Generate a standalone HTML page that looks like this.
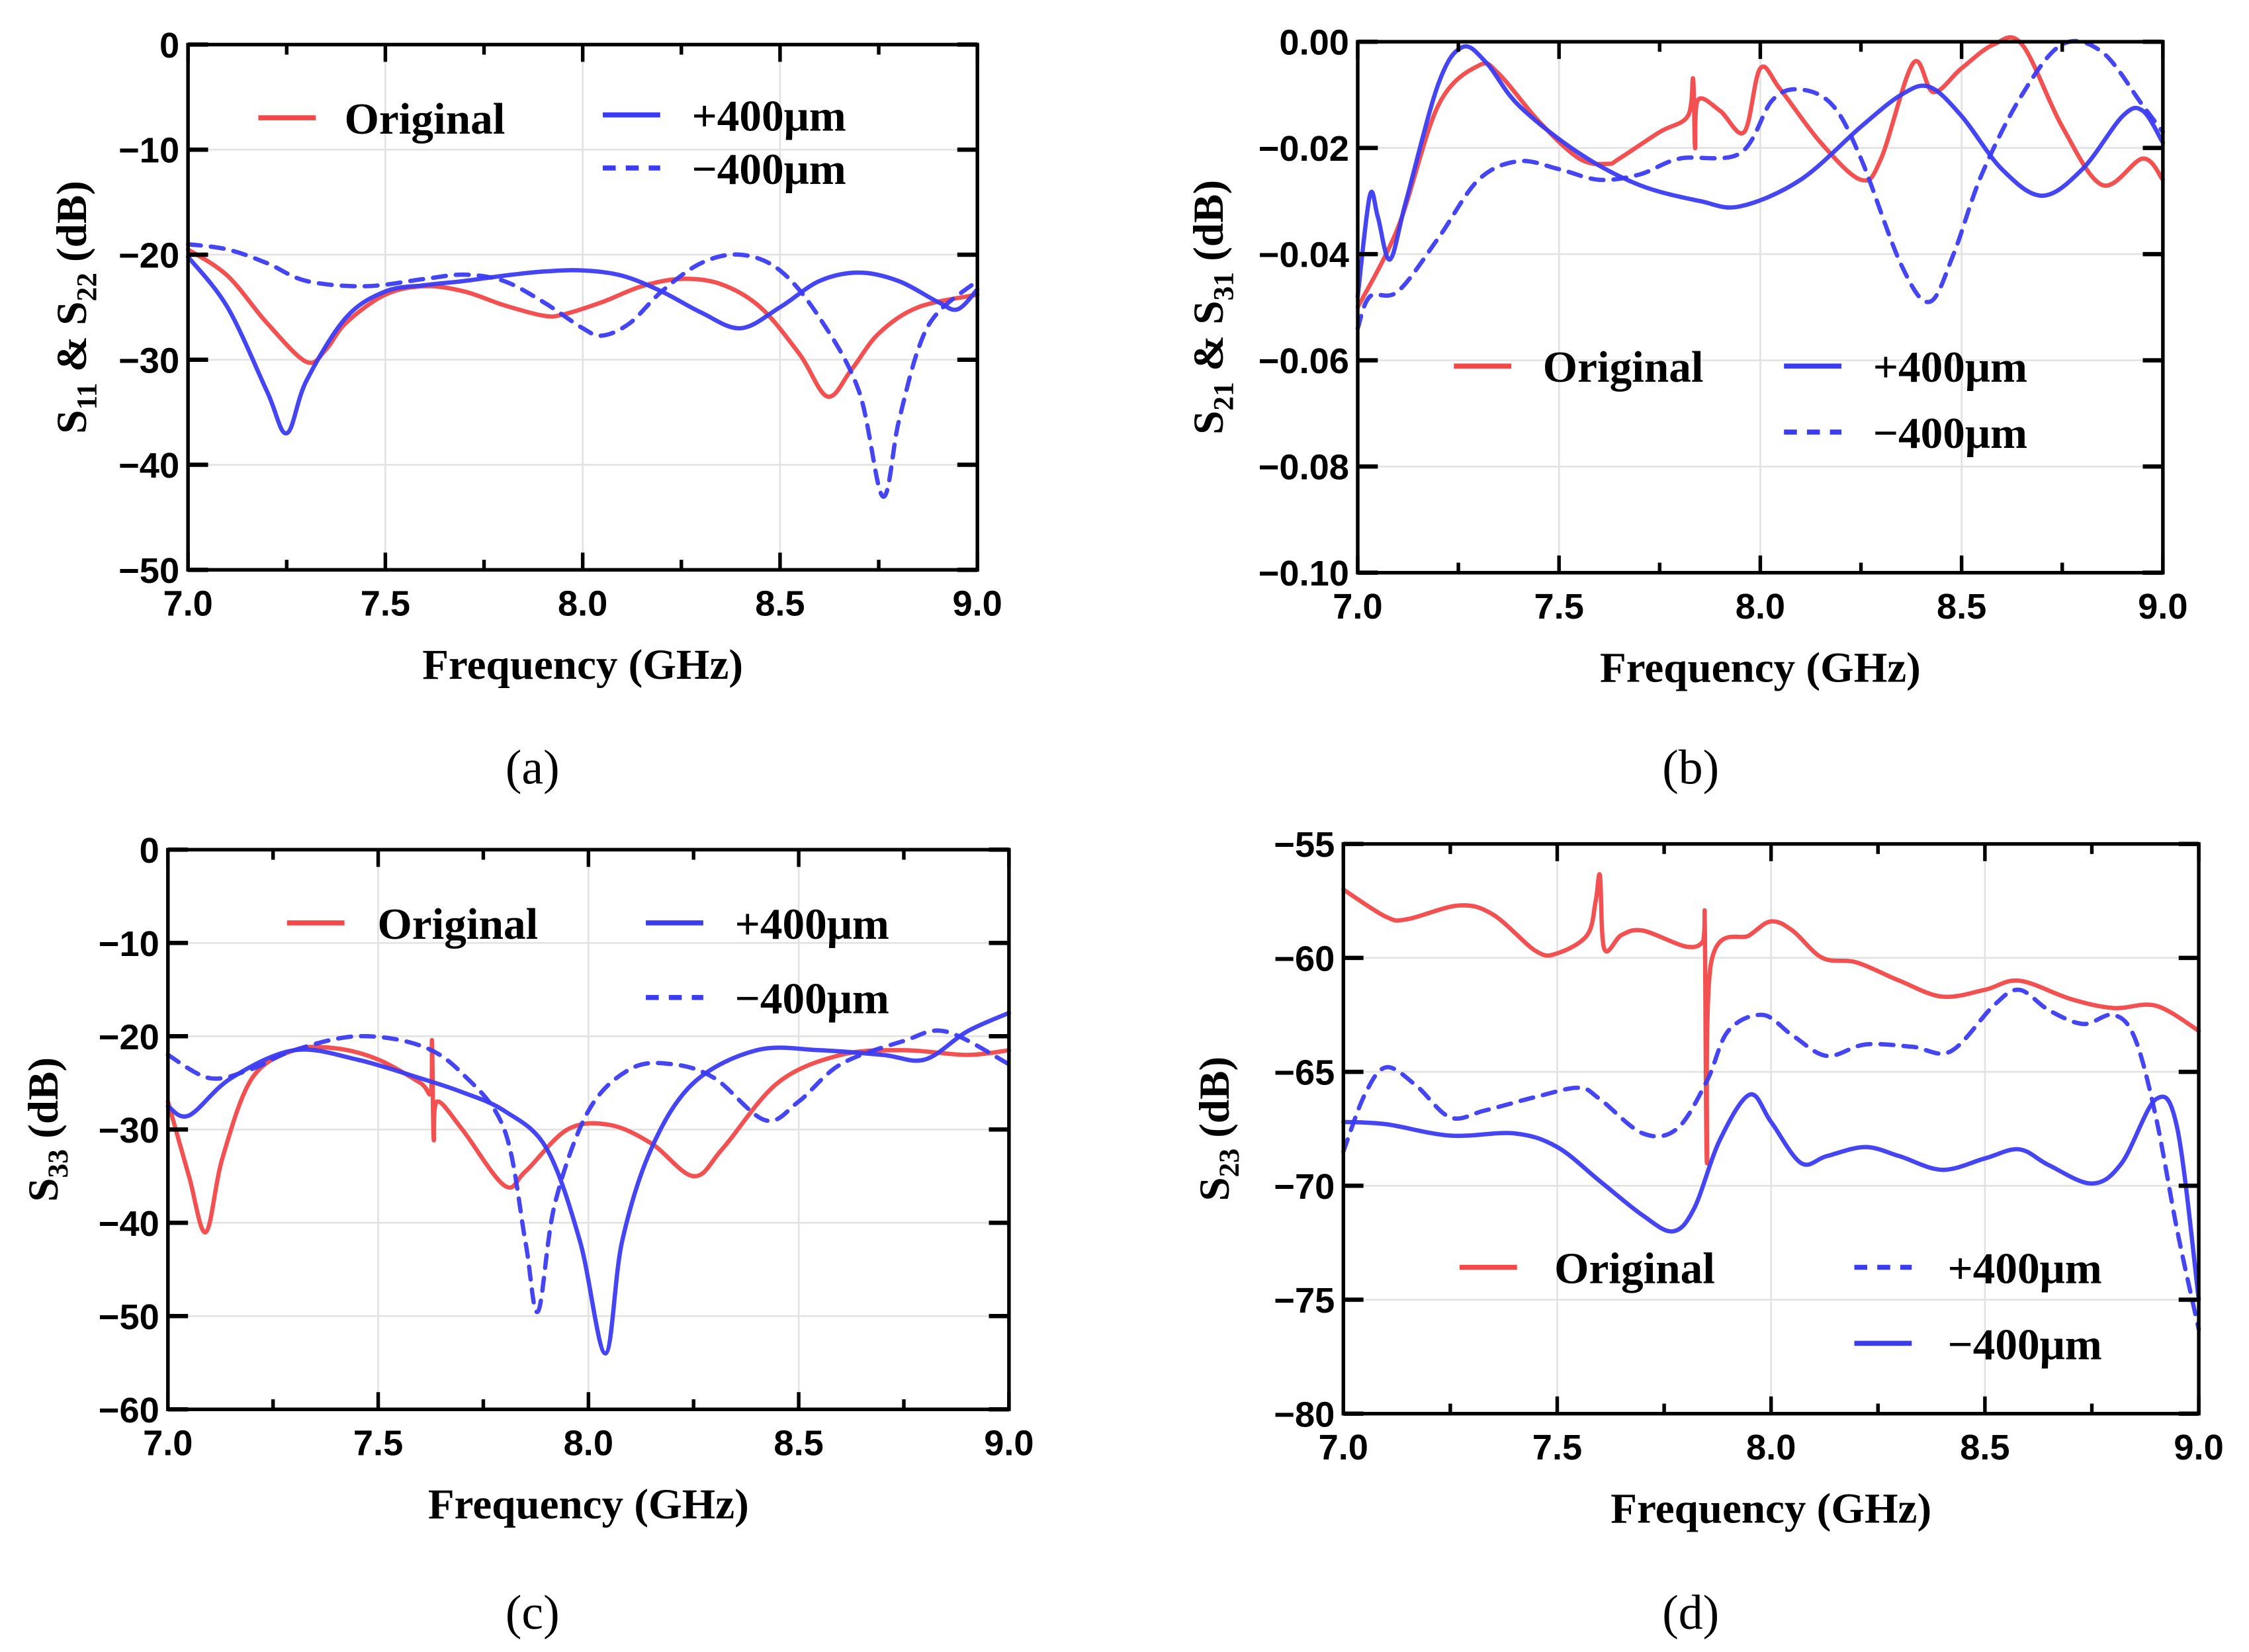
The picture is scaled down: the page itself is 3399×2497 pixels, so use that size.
<!DOCTYPE html>
<html><head><meta charset="utf-8"><style>
html,body{margin:0;padding:0;background:#fff}
svg{display:block}
.tk{font-family:"Liberation Sans",sans-serif;font-weight:bold;font-size:25px}
.ttl{font-family:"Liberation Serif",serif;font-weight:bold;font-size:30px}
.lg{font-family:"Liberation Serif",serif;font-weight:bold;font-size:31px}
.cap{font-family:"Liberation Serif",serif;font-size:34px}
</style></head><body>
<svg id="fig" width="3399" height="2497" viewBox="0 0 1567 1151" xmlns="http://www.w3.org/2000/svg"></svg>
<script>
// ---- Panel (a) data ----
const aOrigX=[7.0,7.1,7.2,7.3,7.35,7.4,7.5,7.6,7.7,7.8,7.9,7.95,8.05,8.15,8.25,8.35,8.45,8.55,8.62,8.68,8.75,8.85,9.0];
const aOrigY=[-19.5,-22,-26.5,-30.2,-29,-26.5,-23.8,-23,-23.5,-24.8,-25.8,-25.7,-24.5,-23,-22.3,-22.8,-25,-29.5,-33.5,-31,-27.5,-25,-23.8];
const aPlusX=[7.0,7.1,7.2,7.25,7.3,7.4,7.5,7.6,7.7,7.8,7.9,8.0,8.1,8.2,8.3,8.4,8.5,8.6,8.7,8.8,8.9,8.95,9.0];
const aPlusY=[-20.2,-25,-33,-37,-32,-26,-23.5,-22.9,-22.5,-22,-21.6,-21.5,-22,-23.5,-25.5,-27,-25,-22.5,-21.7,-22.5,-24.5,-25.2,-23.3];
const aMinusX=[7.0,7.1,7.2,7.3,7.45,7.6,7.7,7.8,7.9,8.0,8.05,8.12,8.2,8.3,8.4,8.5,8.6,8.7,8.76,8.8,8.85,8.9,9.0];
const aMinusY=[-19,-19.5,-20.8,-22.5,-23,-22.3,-21.9,-22.5,-24.5,-27,-27.7,-26.5,-23.5,-20.8,-20,-21.5,-26,-33,-43,-36,-29,-25.5,-22.5];
const aYTicks=["0","−10","−20","−30","−40","−50"];
// ---- Panel (b) data ----
const bOrigX=[7.0,7.1,7.2,7.3,7.35,7.45,7.55,7.62,7.65,7.75,7.82,7.833,7.838,7.845,7.9,7.96,8.0,8.05,8.15,8.25,8.3,8.38,8.43,8.5,8.58,8.65,8.75,8.85,8.95,9.0];
const bOrigY=[-0.050,-0.035,-0.012,-0.0045,-0.006,-0.015,-0.022,-0.023,-0.022,-0.017,-0.014,-0.007,-0.020,-0.011,-0.013,-0.017,-0.005,-0.009,-0.019,-0.026,-0.022,-0.004,-0.0095,-0.005,-0.0005,-0.0005,-0.016,-0.027,-0.022,-0.026];
const bPlusX=[7.0,7.03,7.05,7.08,7.12,7.2,7.26,7.32,7.4,7.55,7.7,7.85,7.95,8.1,8.25,8.35,8.42,8.5,8.6,8.7,8.8,8.9,8.95,9.0];
const bPlusY=[-0.048,-0.029,-0.033,-0.041,-0.03,-0.008,-0.001,-0.004,-0.012,-0.021,-0.027,-0.030,-0.031,-0.026,-0.016,-0.010,-0.0085,-0.014,-0.024,-0.029,-0.024,-0.014,-0.013,-0.019];
const bMinusX=[7.0,7.03,7.1,7.2,7.3,7.4,7.5,7.6,7.7,7.8,7.95,8.03,8.1,8.18,8.25,8.35,8.42,8.48,8.55,8.65,8.75,8.85,8.95,9.0];
const bMinusY=[-0.054,-0.048,-0.047,-0.037,-0.026,-0.0225,-0.024,-0.026,-0.025,-0.022,-0.021,-0.011,-0.009,-0.012,-0.022,-0.042,-0.049,-0.04,-0.025,-0.010,-0.0005,-0.002,-0.012,-0.017];
const bYTicks=["0.00","−0.02","−0.04","−0.06","−0.08","−0.10"];
// ---- Panel (c) data ----
const cOrigX=[7.0,7.05,7.09,7.13,7.2,7.3,7.4,7.5,7.6,7.625,7.628,7.632,7.64,7.7,7.8,7.85,7.95,8.05,8.15,8.25,8.32,8.45,8.6,8.75,8.9,9.0];
const cOrigY=[-27,-35,-41,-33,-24.5,-21.5,-21.3,-22.5,-25,-26,-20.5,-31,-27,-30,-36,-34.5,-30,-29.5,-31.5,-35,-32,-25,-22,-21.5,-22,-21.5];
const cPlusX=[7.0,7.05,7.15,7.3,7.45,7.6,7.7,7.8,7.9,7.98,8.04,8.08,8.15,8.25,8.4,8.55,8.7,8.8,8.9,9.0];
const cPlusY=[-27.5,-28.5,-24.5,-21.5,-22.5,-24.5,-26,-28,-32,-42,-54,-42,-32,-25,-21.5,-21.5,-22,-22.5,-19.5,-17.5];
const cMinusX=[7.0,7.1,7.2,7.3,7.45,7.6,7.7,7.8,7.85,7.88,7.92,8.0,8.1,8.2,8.3,8.42,8.5,8.6,8.75,8.85,9.0];
const cMinusY=[-22,-24.5,-23.5,-21.5,-20,-21,-24,-30,-42,-49.5,-38,-28,-23.5,-23,-24.5,-29,-27,-23,-20.5,-19.5,-23];
const cYTicks=["0","−10","−20","−30","−40","−50","−60"];
// ---- Panel (d) data ----
const dOrigX=[7.0,7.1,7.15,7.27,7.35,7.45,7.5,7.57,7.59,7.6,7.61,7.65,7.7,7.8,7.84,7.845,7.85,7.86,7.95,8.0,8.05,8.12,8.2,8.3,8.4,8.5,8.58,8.7,8.8,8.9,9.0];
const dOrigY=[-57,-58.2,-58.3,-57.7,-58.1,-59.7,-59.8,-59,-57.5,-56.4,-59.6,-59,-58.8,-59.5,-59.3,-58.5,-69,-60.2,-59,-58.4,-58.8,-60,-60.2,-61,-61.7,-61.4,-61,-61.8,-62.2,-62.1,-63.2];
const dPlusX=[7.0,7.05,7.1,7.17,7.25,7.33,7.45,7.55,7.6,7.7,7.78,7.85,7.9,7.98,8.05,8.13,8.22,8.33,8.42,8.52,8.58,8.65,8.73,8.8,8.85,8.9,8.95,9.0];
const dPlusY=[-68.5,-66,-64.8,-65.6,-67,-66.7,-66.1,-65.7,-66.2,-67.7,-67.5,-65.4,-63.2,-62.5,-63.4,-64.3,-63.8,-63.9,-64.1,-62.1,-61.4,-62.3,-62.9,-62.5,-63.5,-67,-72,-76.3];
const dMinusX=[7.0,7.1,7.25,7.4,7.5,7.6,7.7,7.77,7.82,7.88,7.95,8.0,8.07,8.13,8.22,8.3,8.4,8.5,8.58,8.65,8.75,8.82,8.9,8.95,9.0];
const dMinusY=[-67.2,-67.3,-67.8,-67.7,-68.3,-69.8,-71.3,-72,-71,-68,-66,-67.2,-69,-68.7,-68.3,-68.7,-69.3,-68.8,-68.4,-69.1,-69.9,-69,-66.2,-67.5,-75];
const dYTicks=["−55","−60","−65","−70","−75","−80"];
const xTicks=["7.0","7.5","8.0","8.5","9.0"];

const NS="http://www.w3.org/2000/svg";
const svg=document.getElementById('fig');
const RED="#f24848", BLUE="#3b3bf2";
function el(tag,attrs,parent){const e=document.createElementNS(NS,tag);for(const k in attrs)e.setAttribute(k,attrs[k]);(parent||svg).appendChild(e);return e;}
function smooth(pts){let d="M"+pts[0][0].toFixed(2)+","+pts[0][1].toFixed(2);
 for(let i=0;i<pts.length-1;i++){const p0=pts[Math.max(0,i-1)],p1=pts[i],p2=pts[i+1],p3=pts[Math.min(pts.length-1,i+2)];
  const c1=[p1[0]+(p2[0]-p0[0])/6,p1[1]+(p2[1]-p0[1])/6],c2=[p2[0]-(p3[0]-p1[0])/6,p2[1]-(p3[1]-p1[1])/6];
  d+=" C"+c1[0].toFixed(2)+","+c1[1].toFixed(2)+" "+c2[0].toFixed(2)+","+c2[1].toFixed(2)+" "+p2[0].toFixed(2)+","+p2[1].toFixed(2);}
 return d;}
function panel(id,L,T,R,B,y0,y1,yTicks,series,legend,ylab,sub,ylx,cap){
 const g=el('g',{});  
 const sx=v=>L+(v-7)/2*(R-L), sy=v=>T+(y0-v)/(y0-y1)*(B-T);
 const nY=yTicks.length;
 for(let i=0;i<5;i++){const x=L+i*(R-L)/4;const l=el('line',{x1:x,y1:T,x2:x,y2:B,stroke:"#e2e2e2","stroke-width":1.2},g);}
 for(let i=0;i<nY;i++){const y=T+i*(B-T)/(nY-1);const l=el('line',{x1:L,y1:y,x2:R,y2:y,stroke:"#e2e2e2","stroke-width":1.2},g);}
 series.forEach(s=>{const pts=s.x.map((v,i)=>[sx(v),sy(s.y[i])]);
  const p=el('path',{d:smooth(pts),fill:"none",stroke:s.c,"stroke-width":3,"stroke-linejoin":"round","stroke-linecap":"round",opacity:0.95},g);
  if(s.dash)p.setAttribute('stroke-dasharray','9,7');
  
  });
 const f=el('rect',{x:L,y:T,width:R-L,height:B-T,fill:"none",stroke:"#000","stroke-width":2.5},g);
 
 for(let i=0;i<=8;i++){const x=L+i*(R-L)/8,len=i%2?7:12;
  el('line',{x1:x,y1:B,x2:x,y2:B-len,stroke:"#000","stroke-width":2.5},g);el('line',{x1:x,y1:T,x2:x,y2:T+len,stroke:"#000","stroke-width":2.5},g);}
 for(let i=0;i<nY;i++){const y=T+i*(B-T)/(nY-1);
  el('line',{x1:L,y1:y,x2:L+14,y2:y,stroke:"#000","stroke-width":3},g);el('line',{x1:R,y1:y,x2:R-14,y2:y,stroke:"#000","stroke-width":3},g);
  const t=el('text',{x:L-6,y:y+9,"text-anchor":"end",class:"tk"},g);t.textContent=yTicks[i];
  }
 xTicks.forEach((s,i)=>{const t=el('text',{x:L+i*(R-L)/4,y:B+32,"text-anchor":"middle",class:"tk"},g);t.textContent=s;
  });
 const xt=el('text',{x:(L+R)/2,y:B+76,"text-anchor":"middle",class:"ttl"},g);xt.textContent="Frequency (GHz)";
 
 const yt=el('text',{x:0,y:0,"text-anchor":"middle",class:"ttl",transform:`translate(${ylx},${(T+B)/2}) rotate(-90)`},g);
 yt.innerHTML=ylab;
 
 legend.forEach(e=>{const ln=el('line',{x1:e.x,y1:e.y,x2:e.x+40,y2:e.y,stroke:e.c,"stroke-width":3.5},g);
  if(e.dash)ln.setAttribute('stroke-dasharray','9,7');
  
  const t=el('text',{x:e.tx,y:e.y+11,class:"lg"},g);t.textContent=e.t;
  });
 const c=el('text',{x:cap[0],y:cap[1],"text-anchor":"middle",class:"cap"},g);c.textContent=cap[2];
 
}
const sub=(a,b)=>`S<tspan font-size="20" dy="7">${a}</tspan><tspan dy="-7"> &amp; S</tspan><tspan font-size="20" dy="7">${b}</tspan><tspan dy="-7"> (dB)</tspan>`;
const sub1=a=>`S<tspan font-size="20" dy="7">${a}</tspan><tspan dy="-7">   (dB)</tspan>`;
panel('panel-a',131,31,681,397,0,-50,aYTicks,[
 {x:aOrigX,y:aOrigY,c:RED,name:'original-line'},{x:aPlusX,y:aPlusY,c:BLUE,name:'plus400-line'},{x:aMinusX,y:aMinusY,c:BLUE,dash:1,name:'minus400-line'}],
 [{x:180,y:82,c:RED,t:"Original",tx:240},{x:420,y:80,c:BLUE,t:"+400μm",tx:482},{x:420,y:117,c:BLUE,dash:1,t:"−400μm",tx:482}],
 sub("11","22"),0,60,[371,546,"(a)"]);
panel('panel-b',946,29,1507,399,0,-0.10,bYTicks,[
 {x:bOrigX,y:bOrigY,c:RED,name:'original-line'},{x:bPlusX,y:bPlusY,c:BLUE,name:'plus400-line'},{x:bMinusX,y:bMinusY,c:BLUE,dash:1,name:'minus400-line'}],
 [{x:1013,y:255,c:RED,t:"Original",tx:1075},{x:1243,y:255,c:BLUE,t:"+400μm",tx:1305},{x:1243,y:301,c:BLUE,dash:1,t:"−400μm",tx:1305}],
 sub("21","31"),0,852,[1178,546,"(b)"]);
panel('panel-c',117,592,703,982,0,-60,cYTicks,[
 {x:cOrigX,y:cOrigY,c:RED,name:'original-line'},{x:cPlusX,y:cPlusY,c:BLUE,name:'plus400-line'},{x:cMinusX,y:cMinusY,c:BLUE,dash:1,name:'minus400-line'}],
 [{x:200,y:643,c:RED,t:"Original",tx:263},{x:450,y:643,c:BLUE,t:"+400μm",tx:512},{x:450,y:695,c:BLUE,dash:1,t:"−400μm",tx:512}],
 sub1("33"),0,40,[371,1135,"(c)"]);
panel('panel-d',936,588,1532,985,-55,-80,dYTicks,[
 {x:dOrigX,y:dOrigY,c:RED,name:'original-line'},{x:dPlusX,y:dPlusY,c:BLUE,dash:1,name:'plus400-line'},{x:dMinusX,y:dMinusY,c:BLUE,name:'minus400-line'}],
 [{x:1017,y:883,c:RED,t:"Original",tx:1083},{x:1292,y:883,c:BLUE,dash:1,t:"+400μm",tx:1357},{x:1292,y:936,c:BLUE,t:"−400μm",tx:1357}],
 sub1("23"),0,856,[1178,1135,"(d)"]);
</script>
</body></html>
